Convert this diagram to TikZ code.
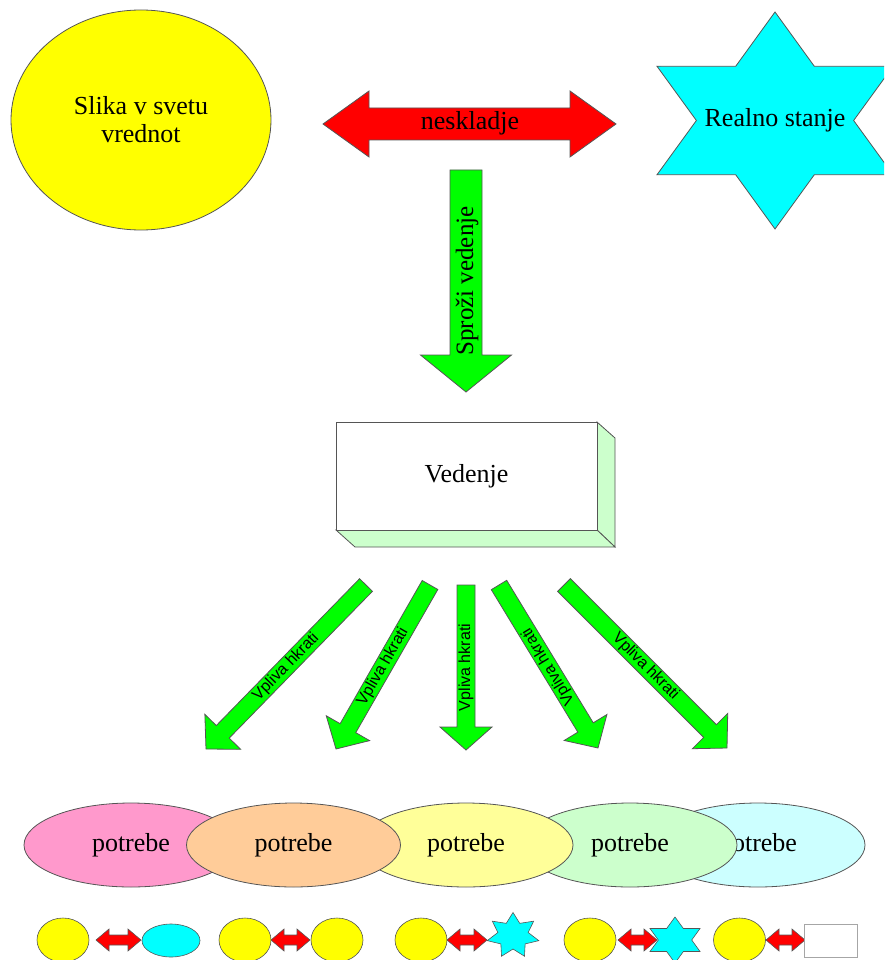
\documentclass[tikz,border=0pt]{standalone}
\usepackage{fontspec}
\setmainfont{Liberation Serif}
\newfontfamily\arialfont{Liberation Sans}
\usetikzlibrary{calc,shapes.geometric}
\definecolor{olc}{RGB}{85,85,85}
\definecolor{yelc}{RGB}{255,255,0}
\definecolor{redc}{RGB}{255,0,0}
\definecolor{cyanc}{RGB}{0,255,255}
\definecolor{grnc}{RGB}{0,255,0}
\definecolor{boxg}{RGB}{204,255,204}
\definecolor{pinkc}{RGB}{255,153,204}
\definecolor{orc}{RGB}{255,204,153}
\definecolor{lyel}{RGB}{255,255,153}
\definecolor{lgrn}{RGB}{204,255,204}
\definecolor{lcyan}{RGB}{204,255,255}

% block arrow: name, tail, tip, shaft half width, head half width, head length, fill
\newcommand\blockarr[7]{%
  \coordinate (#1-t) at #2;
  \coordinate (#1-p) at #3;
  \coordinate (#1-n) at ($(#1-p)!#6!(#1-t)$);
  \draw[shapeline, fill=#7] ($(#1-t)!#4!90:(#1-p)$) -- ($(#1-n)!#4!-90:(#1-t)$) -- ($(#1-n)!#5!-90:(#1-t)$) -- (#1-p) -- ($(#1-n)!#5!90:(#1-t)$) -- ($(#1-n)!#4!90:(#1-t)$) -- ($(#1-t)!#4!-90:(#1-p)$) -- cycle;
}
% small horizontal double arrow: x1, x2, y
\newcommand\smalldbl[3]{%
  \draw[smallline, fill=redc] (#1,#3) -- ({#1+13},{#3-11}) -- ({#1+13},{#3-5}) -- ({#2-13},{#3-5}) -- ({#2-13},{#3-11}) -- (#2,#3) -- ({#2-13},{#3+11}) -- ({#2-13},{#3+5}) -- ({#1+13},{#3+5}) -- ({#1+13},{#3+11}) -- cycle;
}
% star: style, cx, cy, last index (2n-1), R, r, xscale
\newcommand\starshape[7]{%
  \draw[#1] ({#2},{#3-#5}) \foreach \k in {1,...,#4} { -- ({#2+#7*(#5-(#5-#6)*mod(\k,2))*cos(90+360*\k/(#4+1))},{#3-(#5-(#5-#6)*mod(\k,2))*sin(90+360*\k/(#4+1))}) } -- cycle;
}

\begin{document}
\begin{tikzpicture}[x=1pt,y=-1pt,
  shapeline/.style={draw=olc, line width=0.8pt},
  smallline/.style={draw=olc, line width=0.6pt},
  serif/.style={font=\fontsize{26}{28}\selectfont, text=black},
  lbl/.style={font=\arialfont\fontsize{16}{18}\selectfont, text=black, inner sep=0pt},
  need/.style={ellipse, shapeline, minimum width=214pt, minimum height=84pt, inner sep=0pt, serif},
  minioval/.style={ellipse, smallline, fill=yelc, minimum width=52pt, minimum height=44pt, inner sep=0pt}]
\useasboundingbox (0,0) rectangle (884,960);
\clip (0,0) rectangle (884,960);

% top row
\node[ellipse, shapeline, fill=yelc, minimum width=260pt, minimum height=220pt, inner sep=0pt, serif, align=center] (slika) at (141,120) {Slika v svetu\\vrednot};

\draw[shapeline, fill=redc] (323,124) -- (369,91) -- (369,108) -- (570,108) -- (570,91) -- (616,124) -- (570,157) -- (570,140) -- (369,140) -- (369,157) -- cycle;
\node[serif] (nesk) at (470,123) {neskladje};

\starshape{shapeline, fill=cyanc}{775}{120.5}{11}{108.5}{62.6}{1.256}
\node[serif] (real) at (775,120) {Realno stanje};

% trigger arrow
\blockarr{sa}{(466,170)}{(466,392)}{16pt}{45.5pt}{37pt}{grnc}
\node[serif, font=\fontsize{25}{28}\selectfont, rotate=90, inner sep=0pt] (sprozi) at (467,281) {Sproži vedenje};

% behaviour box
\draw[shapeline, fill=boxg] (597,422) -- (615,438) -- (615,547) -- (597,530) -- cycle;
\draw[shapeline, fill=boxg] (336,530) -- (597,530) -- (615,547) -- (355,547) -- cycle;
\node[draw=olc, line width=0.8pt, fill=white, minimum width=261pt, minimum height=108pt, inner sep=0pt, serif] (vedenje) at (466.5,476) {Vedenje};

% five influence arrows
\blockarr{a1}{(366,585)}{(206,749)}{9pt}{25pt}{24pt}{grnc}
\node[lbl, rotate=45.7] (v1) at ($(a1-t)!0.5!(a1-p)$) {Vpliva hkrati};
\blockarr{a2}{(430,585)}{(336,749)}{9pt}{25pt}{24pt}{grnc}
\node[lbl, rotate=60.2] (v2) at ($(a2-t)!0.5!(a2-p)$) {Vpliva hkrati};
\blockarr{a3}{(466,585)}{(466,750)}{9pt}{26pt}{23pt}{grnc}
\node[lbl, rotate=90] (v3) at ($(a3-t)!0.5!(a3-p)$) {Vpliva hkrati};
\blockarr{a4}{(499,585)}{(598,748)}{9pt}{25pt}{24pt}{grnc}
\node[lbl, rotate=121.3] (v4) at ($(a4-t)!0.5!(a4-p)$) {Vpliva hkrati};
\blockarr{a5}{(564,585)}{(727,748)}{9pt}{25pt}{24pt}{grnc}
\node[lbl, rotate=-45] (v5) at ($(a5-t)!0.5!(a5-p)$) {Vpliva hkrati};

% needs
\node[need, fill=lcyan] (p5) at (758,845) {potrebe};
\node[need, fill=lgrn] (p4) at (630,845) {potrebe};
\node[need, fill=lyel] (p3) at (466,845) {potrebe};
\node[need, fill=pinkc] (p1) at (131,845) {potrebe};
\node[need, fill=orc] (p2) at (293.5,845) {potrebe};

% bottom row
\node[minioval] (y1) at (63,940) {};
\smalldbl{96}{141}{940}
\node[ellipse, smallline, fill=cyanc, minimum width=58pt, minimum height=33pt, inner sep=0pt] (c1) at (171,940.5) {};

\node[minioval] (y2) at (245,940) {};
\smalldbl{271}{310}{940}
\node[minioval] (y2b) at (337,940) {};

\node[minioval] (y3) at (421,940) {};
\smalldbl{447}{487}{940}
\starshape{smallline, fill=cyanc}{513}{935.5}{13}{23}{13.5}{1.15}

\node[minioval] (y4) at (590,940) {};
\smalldbl{618}{657}{940}
\starshape{smallline, fill=cyanc}{675}{940}{11}{23}{13.3}{1.256}

\node[minioval] (y5) at (739.5,940) {};
\smalldbl{766}{805}{940}
\node[draw=gray!70, line width=0.8pt, fill=white, minimum width=53pt, minimum height=33pt, inner sep=0pt] (r5) at (830.5,940.5) {};
\end{tikzpicture}
\end{document}
